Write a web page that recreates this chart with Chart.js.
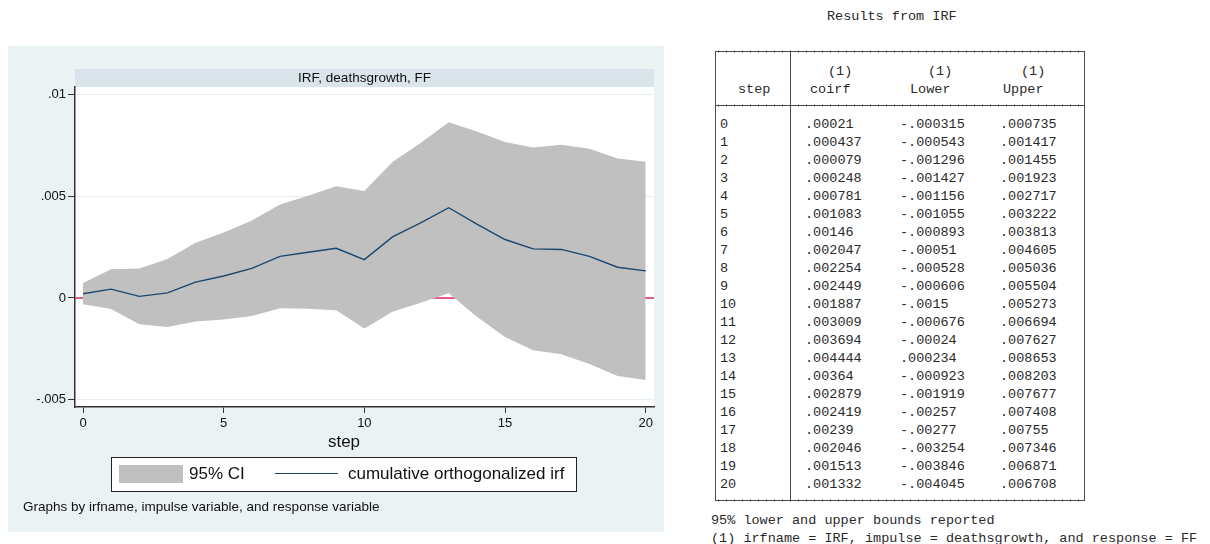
<!DOCTYPE html>
<html>
<head>
<meta charset="utf-8">
<script src="https://cdn.jsdelivr.net/npm/chart.js@4.4.1/dist/chart.umd.min.js"></script>
<style>
  html, body { margin: 0; padding: 0; background: #ffffff; }
  body { width: 1210px; height: 544px; position: relative; overflow: hidden; }
  #panel { position: absolute; left: 8px; top: 46px; width: 656px; height: 486px; background: #EAF2F3; }
  #irf { position: absolute; left: 0; top: 0; }
  .sans { font-family: "Liberation Sans", Arial, sans-serif; color: #111; position: absolute; white-space: nowrap; }
  #xtitle { font-size: 17px; line-height: 20px; width: 100px; text-align: center; left: 286px; top: 386px; }
  #legend { left: 103px; top: 411px; width: 464px; height: 33px; background: #fff; border: 1px solid #222; }
  #legend .swatch { position: absolute; left: 7px; top: 7px; width: 64px; height: 18px; background: #C0C0C0; }
  #legend .lab1 { position: absolute; left: 77px; top: 6px; font-size: 17px; line-height: 20px; }
  #legend .lineswatch { position: absolute; left: 163px; top: 15px; width: 63px; height: 0; border-top: 1.5px solid #1A476F; }
  #legend .lab2 { position: absolute; left: 236px; top: 6px; font-size: 17px; line-height: 20px; }
  #note { font-size: 13.5px; line-height: 16px; left: 15px; top: 453px; }
  .mono { font-family: "Liberation Mono", "Courier New", monospace; font-size: 13.5px; line-height: 16px; color: #2a2a2a; position: absolute; white-space: pre; }
  .rule { position: absolute; background: #4a4a4a; }
  .ticks { position: absolute; height: 3px;
           background: repeating-linear-gradient(to right, rgba(90,90,90,0.55) 0 1px, transparent 1px 8px); }
</style>
</head>
<body>
<div id="panel">
  <canvas id="irf" width="656" height="486"></canvas>
  <div id="xtitle" class="sans">step</div>
  <div id="legend" class="sans">
    <div class="swatch"></div><div class="lab1" id="lab1"></div>
    <div class="lineswatch"></div><div class="lab2" id="lab2"></div>
  </div>
  <div id="note" class="sans">Graphs by irfname, impulse variable, and response variable</div>
</div>
<div id="table"></div>
<script>
// Impulse response: deathsgrowth -> FF, cumulative orthogonalized IRF with 95% bounds
const steps = [0, 1, 2, 3, 4, 5, 6, 7, 8, 9, 10, 11, 12, 13, 14, 15, 16, 17, 18, 19, 20];
const coirf = [.00021, .000437, .000079, .000248, .000781, .001083, .00146, .002047, .002254, .002449,
               .001887, .003009, .003694, .004444, .00364, .002879, .002419, .00239, .002046, .001513, .001332];
const lower = [-.000315, -.000543, -.001296, -.001427, -.001156, -.001055, -.000893, -.00051, -.000528, -.000606,
               -.0015, -.000676, -.00024, .000234, -.000923, -.001919, -.00257, -.00277, -.003254, -.003846, -.004045];
const upper = [.000735, .001417, .001455, .001923, .002717, .003222, .003813, .004605, .005036, .005504,
               .005273, .006694, .007627, .008653, .008203, .007677, .007408, .00755, .007346, .006871, .006708];

const yTickValues = [-0.005, 0, 0.005, 0.01];
const yTickLabels = ['-.005', '0', '.005', '.01'];
const xTickValues = [0, 5, 10, 15, 20];

const panelTitle = 'IRF, deathsgrowth, FF';
const legendLabels = ['95% CI', 'cumulative orthogonalized irf'];
const tableTitle = 'Results from IRF';
const tableHeads = ['coirf', 'Lower', 'Upper'];
const tableNotes = ['95% lower and upper bounds reported',
                    '(1) irfname = IRF, impulse = deathsgrowth, and response = FF'];

const X_MIN = -0.285, X_MAX = 20.295;
const Y_MIN = -0.00537, Y_MAX = 0.01039;

document.getElementById('lab1').textContent = legendLabels[0];
document.getElementById('lab2').textContent = legendLabels[1];

const pts = arr => steps.map((s, i) => ({ x: s, y: arr[i] }));

// white plot region plus the shaded title strip above it
const plotDecor = {
  id: 'plotDecor',
  beforeDraw(chart) {
    const { ctx, chartArea: a } = chart;
    ctx.save();
    ctx.fillStyle = '#ffffff';
    ctx.fillRect(a.left, a.top, a.right - a.left, a.bottom - a.top);
    ctx.fillStyle = '#D9E5EA';
    ctx.fillRect(a.left, a.top - 18, a.right - a.left, 18);
    ctx.fillStyle = '#111';
    ctx.font = '13.5px "Liberation Sans", Arial, sans-serif';
    ctx.textAlign = 'center';
    ctx.textBaseline = 'middle';
    ctx.fillText(panelTitle, (a.left + a.right) / 2, a.top - 9);
    ctx.restore();
  }
};

new Chart(document.getElementById('irf'), {
  type: 'line',
  data: {
    datasets: [
      { label: legendLabels[1], data: pts(coirf), borderColor: '#1A476F', borderWidth: 1.4,
        pointRadius: 0, fill: false, tension: 0, order: 0 },
      { label: 'lower', data: pts(lower), borderColor: 'rgba(0,0,0,0)', borderWidth: 0,
        pointRadius: 0, fill: false, tension: 0, order: 2 },
      { label: legendLabels[0], data: pts(upper), borderColor: 'rgba(0,0,0,0)', borderWidth: 0,
        backgroundColor: '#C0C0C0', pointRadius: 0, fill: '-1', tension: 0, order: 1 },
      { label: 'zero', data: [{ x: X_MIN, y: 0 }, { x: X_MAX, y: 0 }], borderColor: '#D8285A',
        borderWidth: 1.5, pointRadius: 0, fill: false, order: 3 }
    ]
  },
  options: {
    responsive: false,
    animation: false,
    devicePixelRatio: 1,
    layout: { padding: { top: 41, right: 10, left: 0, bottom: 0 } },
    plugins: { legend: { display: false }, tooltip: { enabled: false }, title: { display: false } },
    scales: {
      x: {
        type: 'linear', min: X_MIN, max: X_MAX,
        afterBuildTicks: s => { s.ticks = xTickValues.map(v => ({ value: v })); },
        afterFit: s => { s.height = 125; },
        grid: { drawOnChartArea: false, drawTicks: true, tickLength: 6, tickColor: '#333', tickWidth: 1 },
        border: { display: true, color: '#333', width: 1.5 },
        ticks: { color: '#111', padding: 3, maxRotation: 0, autoSkip: false,
                 font: { family: '"Liberation Sans", Arial, sans-serif', size: 13 },
                 callback: v => String(v) }
      },
      y: {
        type: 'linear', min: Y_MIN, max: Y_MAX,
        afterBuildTicks: s => { s.ticks = yTickValues.map(v => ({ value: v })); },
        afterFit: s => { s.width = 67; },
        grid: { color: c => (c.tick && c.tick.value === 0) ? 'rgba(0,0,0,0)' : '#E6EFF1',
                lineWidth: 1, drawTicks: true, tickLength: 7, tickColor: '#333', tickWidth: 1 },
        border: { display: true, color: '#333', width: 1.5 },
        ticks: { color: '#111', padding: 2, autoSkip: false,
                 font: { family: '"Liberation Sans", Arial, sans-serif', size: 13 },
                 callback: v => yTickLabels[yTickValues.indexOf(v)] ?? '' }
      }
    }
  },
  plugins: [plotDecor]
});

// Tabulated results beside the graph
const fmt = v => String(v).replace(/^(-?)0\./, '$1.');
const tbl = document.getElementById('table');
function txt(s, x, yc) {
  const d = document.createElement('div');
  d.className = 'mono';
  d.textContent = s;
  d.style.left = x + 'px';
  d.style.top = (yc - 6.5) + 'px';
  tbl.appendChild(d);
}
function rule(x, y, w, h) {
  const d = document.createElement('div');
  d.className = 'rule';
  d.style.left = x + 'px'; d.style.top = y + 'px';
  d.style.width = w + 'px'; d.style.height = h + 'px';
  tbl.appendChild(d);
  if (h === 1) {
    const t = document.createElement('div');
    t.className = 'ticks';
    t.style.left = (x + 3) + 'px'; t.style.top = (y - 1) + 'px'; t.style.width = (w - 6) + 'px';
    tbl.appendChild(t);
  }
}
txt(tableTitle, 827, 15);
rule(715, 51, 370, 1); rule(715, 105, 370, 1); rule(715, 500, 370, 1);
rule(715, 51, 1, 450); rule(1084, 51, 1, 450); rule(790, 51, 1, 450);
txt('step', 738, 88);
const headX = [810, 910, 1003];
tableHeads.forEach((h, j) => {
  txt('(1)', headX[j] + 18, 70);
  txt(h, headX[j], 88);
});
const colX = [805, 900, 1000];
steps.forEach((s, i) => {
  const yc = 123 + i * 18;
  txt(String(s), 720, yc);
  txt(fmt(coirf[i]), colX[0], yc);
  txt(fmt(lower[i]), colX[1], yc);
  txt(fmt(upper[i]), colX[2], yc);
});
txt(tableNotes[0], 711, 519);
txt(tableNotes[1], 711, 537);
</script>
</body>
</html>
